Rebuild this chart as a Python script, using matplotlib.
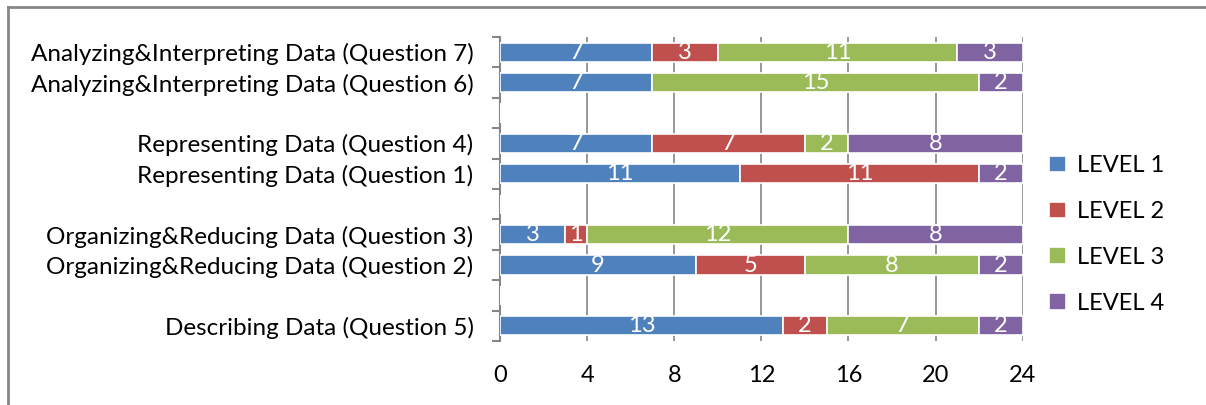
import matplotlib.pyplot as plt
from matplotlib.lines import Line2D
import numpy as np

plt.rcParams['font.family'] = ['Lato', 'DejaVu Sans']

# categories bottom -> top, blank rows are the gaps between groups
cats = ["Describing Data (Question 5)", "",
        "Organizing&Reducing Data (Question 2)", "Organizing&Reducing Data (Question 3)", "",
        "Representing Data (Question 1)", "Representing Data (Question 4)", "",
        "Analyzing&Interpreting Data (Question 6)", "Analyzing&Interpreting Data (Question 7)"]
level1 = [13, 0, 9, 3, 0, 11, 7, 0, 7, 7]
level2 = [2, 0, 5, 1, 0, 11, 7, 0, 0, 3]
level3 = [7, 0, 8, 12, 0, 0, 2, 0, 15, 11]
level4 = [2, 0, 2, 8, 0, 2, 8, 0, 2, 3]
levels = ["LEVEL 1", "LEVEL 2", "LEVEL 3", "LEVEL 4"]
colors = ["#4F81BD", "#C0504D", "#9BBB59", "#8064A2"]

fig = plt.figure(figsize=(12.06, 4.05), dpi=100)
ax = fig.add_axes([0.4146, 0.158, 0.848 - 0.4146, 0.9086 - 0.158])

y = np.arange(len(cats))
left = np.zeros(len(cats))
for vals, c, lab in zip([level1, level2, level3, level4], colors, levels):
    vals = np.array(vals, dtype=float)
    ax.barh(y, vals, left=left, height=0.63, color=c, edgecolor="white",
            linewidth=1.2, label=lab, zorder=3)
    for yi, v, l in zip(y, vals, left):
        if v > 0:
            ax.text(l + v / 2, yi, str(int(v)), ha="center", va="center",
                    color="white", fontsize=17, zorder=4)
    left += vals

ax.set_xlim(0, 24)
ax.set_ylim(-0.5, len(cats) - 0.5)
ax.set_xticks(range(0, 25, 4))
ax.tick_params(axis="x", length=0, labelsize=17, pad=17)
ax.set_yticks(y)
ax.set_yticklabels(cats)
ax.set_yticks(np.arange(-0.5, len(cats), 1), minor=True)
ax.tick_params(axis="y", which="major", length=0, pad=19, labelsize=17.5)
ax.tick_params(axis="y", which="minor", length=6, color="#868686", width=1.5)
ax.grid(axis="x", color="#868686", linewidth=1.2, zorder=0)
for s in ["top", "right", "bottom"]:
    ax.spines[s].set_visible(False)
ax.spines["left"].set_color("#868686")
ax.spines["left"].set_linewidth(1.5)

ax.legend(loc="center left", bbox_to_anchor=(1.01, 0.35), frameon=False,
          fontsize=17, handlelength=0.7, handleheight=0.7, labelspacing=1.05,
          handletextpad=0.5)

# chart border (top + left)
fig.add_artist(Line2D([8 / 1206, 1], [1 - 7 / 405] * 2, color="#868686", lw=2))
fig.add_artist(Line2D([8 / 1206] * 2, [0, 1 - 7 / 405], color="#868686", lw=2))

fig.savefig("out.png", dpi=100)
